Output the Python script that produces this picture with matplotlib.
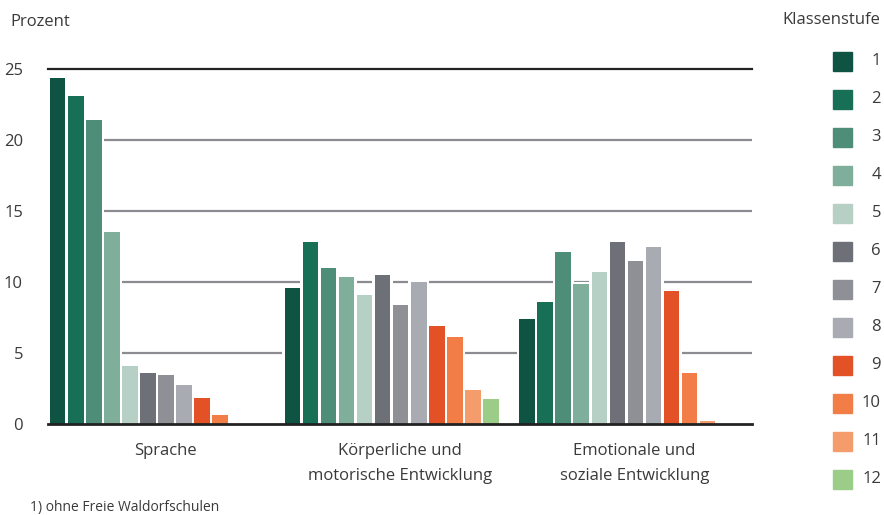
import matplotlib
matplotlib.use("Agg")
import matplotlib.pyplot as plt
import numpy as np

plt.rcParams['font.family'] = ['Open Sans', 'DejaVu Sans']

# Anteile je Förderschwerpunkt und Klassenstufe (Prozent)
categories = ['Sprache', 'Körperliche und\nmotorische Entwicklung', 'Emotionale und\nsoziale Entwicklung']
grades = ['1', '2', '3', '4', '5', '6', '7', '8', '9', '10', '11', '12']
sprache = [24.4, 23.1, 21.4, 13.5, 4.1, 3.6, 3.45, 2.75, 1.8, 0.65, 0, 0]
koerper = [9.6, 12.8, 11.0, 10.35, 9.1, 10.5, 8.35, 10.0, 6.9, 6.1, 2.4, 1.75]
emotional = [7.4, 8.6, 12.1, 9.85, 10.7, 12.85, 11.5, 12.5, 9.4, 3.6, 0.2, 0]
colors = ['#0f5443', '#176f56', '#4e8d78', '#7fae9b', '#b7d0c6', '#6e7077',
          '#8f9096', '#a9abb2', '#e35226', '#f37d46', '#f59c6c', '#9bcd89']

values = [sprache, koerper, emotional]
text_col = '#3a3a3a'

fig = plt.figure(figsize=(8.84, 5.15), dpi=100)
ax = fig.add_axes([48/884, 91/515, 704/884, 355/515])

slot = 1/13
for i, vals in enumerate(values):
    for j, v in enumerate(vals):
        if v <= 0:
            continue
        x = i + (j + 0.5) * slot + 0.003
        # white halo so gridlines stop short of the bars
        ax.bar(x, v + 0.15, width=slot * 1.16, color='white', zorder=2, linewidth=0)
        ax.bar(x, v, width=slot * 0.86, color=colors[j], zorder=3, linewidth=0)

for y in [5, 10, 15, 20]:
    ax.axhline(y, color='#8b8c91', lw=1.6, zorder=1)
ax.axhline(25, color='#222222', lw=1.6, zorder=4, clip_on=False)
ax.axhline(0, color='#222222', lw=2.0, zorder=4, clip_on=False)

ax.set_xlim(0, 3)
ax.set_ylim(0, 25)
ax.set_yticks([0, 5, 10, 15, 20, 25])
ax.tick_params(axis='y', length=0, pad=18, labelsize=12, labelcolor=text_col)
ax.set_xticks([])
for s in ax.spines.values():
    s.set_visible(False)

for i, c in enumerate(categories):
    ax.text(i + 0.5, -1.35, c, ha='center', va='top', fontsize=12,
            color=text_col, linespacing=1.75)

fig.text(10/884, 1 - 22/515, 'Prozent', fontsize=12, color=text_col, va='center', ha='left')
fig.text(880/884, 1 - 20/515, 'Klassenstufe', fontsize=12, color=text_col, va='center', ha='right')

# legend boxes drawn by hand in figure pixels
for k, (g, c) in enumerate(zip(grades, colors)):
    yc = 61 + 38 * k
    fig.patches.append(plt.Rectangle((833/884, 1 - (yc + 9.5)/515), 19/884, 19/515,
                                     transform=fig.transFigure, color=c))
    fig.text(881/884, 1 - yc/515, g, fontsize=12, color=text_col, va='center', ha='right')

fig.text(30/884, 1 - 511/515, '1) ohne Freie Waldorfschulen', fontsize=10,
         color=text_col, va='baseline', ha='left')

fig.savefig('out.png', dpi=100)
